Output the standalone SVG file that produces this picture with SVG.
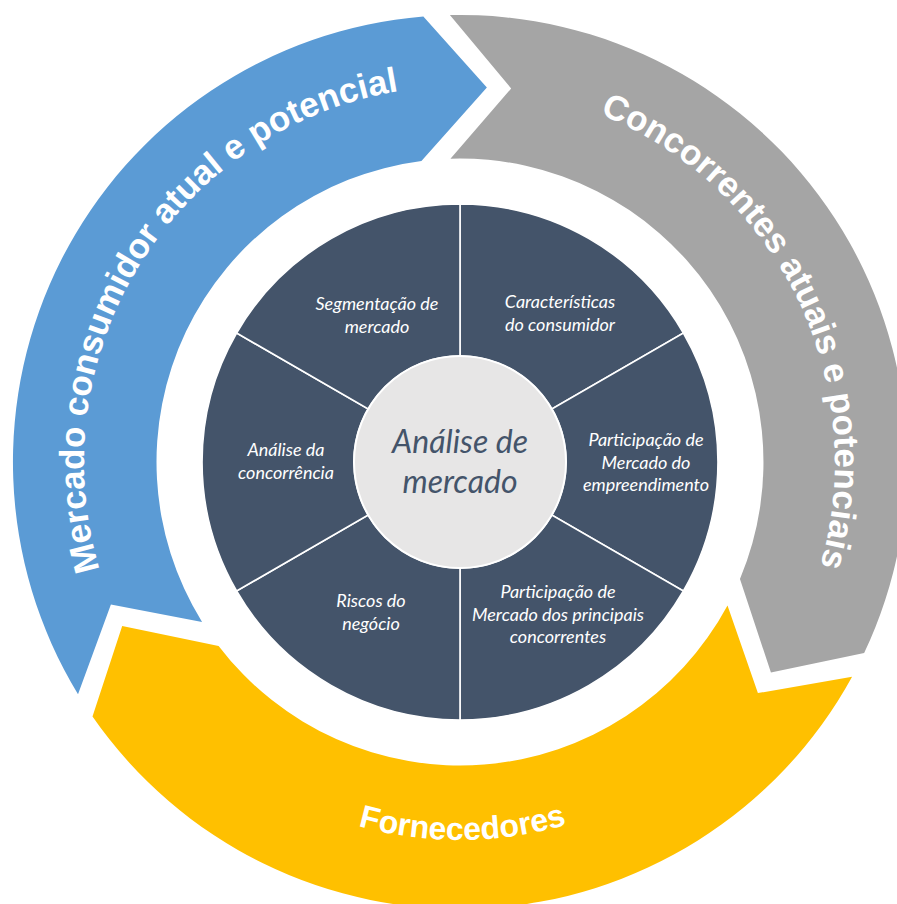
<svg xmlns="http://www.w3.org/2000/svg" xmlns:xlink="http://www.w3.org/1999/xlink" width="897" height="904" viewBox="0 0 897 904">
  <style>
    .band-label { font-family: "Liberation Sans", Arial, sans-serif; font-weight: bold; fill: #ffffff; }
    .sector { fill: #44546a; stroke: #ffffff; stroke-width: 1.6; }
    .sector-label { font-family: Lato, "Open Sans", sans-serif; font-style: italic; font-size: 18px; fill: #ffffff; text-anchor: middle; }
    .hub { fill: #e7e6e6; stroke: #ffffff; stroke-width: 2; }
    .hub-label { font-family: Lato, "Open Sans", sans-serif; font-style: italic; font-size: 32px; fill: #44546a; text-anchor: middle; }
  </style>
  <defs>
    <!-- one chevron-shaped arc band (notched tail, pointed head); rotated copies form the ring -->
    <path id="band" d="M 852.1 676.7 L 757.9 693.1 L 727.5 605.4 A 303.5 303.5 0 0 1 218.6 645.9 L 122.2 626.0 L 92.5 716.5 A 447 447 0 0 0 852.1 676.7 Z"/>
    <!-- baselines for the curved band captions -->
    <path id="arc-consumer" d="M 233.7 762.3 A 376 376 0 0 1 630.7 127.0" fill="none"/>
    <path id="arc-competitors" d="M 325.6 111.9 A 375 375 0 0 1 653.1 783.4" fill="none"/>
    <path id="arc-suppliers" d="M 83.7 497.6 A 378 378 0 0 0 836.8 492.3" fill="none"/>
  </defs>

  <!-- outer ring -->
  <g id="ring-consumer">
    <use xlink:href="#band" href="#band" transform="rotate(120 460 462)" fill="#5b9bd5"/>
    <text class="band-label" font-size="35" text-anchor="middle"><textPath xlink:href="#arc-consumer" href="#arc-consumer" startOffset="50%">Mercado consumidor atual e potencial</textPath></text>
  </g>
  <g id="ring-competitors">
    <use xlink:href="#band" href="#band" transform="rotate(240 460 462)" fill="#a5a5a5"/>
    <text class="band-label" font-size="35" text-anchor="middle"><textPath xlink:href="#arc-competitors" href="#arc-competitors" startOffset="50%">Concorrentes atuais e potenciais</textPath></text>
  </g>
  <g id="ring-suppliers">
    <use xlink:href="#band" href="#band" fill="#ffc000"/>
    <text class="band-label" font-size="32" text-anchor="middle"><textPath xlink:href="#arc-suppliers" href="#arc-suppliers" startOffset="50%">Fornecedores</textPath></text>
  </g>

  <!-- inner wheel: six sectors -->
  <g id="sector-consumer-traits">
    <path class="sector" d="M 460 204 A 258 258 0 0 1 683.4 333 L 551.8 409 A 106 106 0 0 0 460 356 Z"/>
    <text class="sector-label" x="560" y="308">Características<tspan x="560" dy="23">do consumidor</tspan></text>
  </g>
  <g id="sector-own-share">
    <path class="sector" d="M 683.4 333 A 258 258 0 0 1 683.4 591 L 551.8 515 A 106 106 0 0 0 551.8 409 Z"/>
    <text class="sector-label" x="646" y="446">Participação de<tspan x="646" dy="22.5">Mercado do</tspan><tspan x="646" dy="22.5">empreendimento</tspan></text>
  </g>
  <g id="sector-rivals-share">
    <path class="sector" d="M 683.4 591 A 258 258 0 0 1 460 720 L 460 568 A 106 106 0 0 0 551.8 515 Z"/>
    <text class="sector-label" x="558" y="598">Participação de<tspan x="558" dy="22.5">Mercado dos principais</tspan><tspan x="558" dy="22.5">concorrentes</tspan></text>
  </g>
  <g id="sector-risks">
    <path class="sector" d="M 460 720 A 258 258 0 0 1 236.6 591 L 368.2 515 A 106 106 0 0 0 460 568 Z"/>
    <text class="sector-label" x="371" y="607">Riscos do<tspan x="371" dy="23">negócio</tspan></text>
  </g>
  <g id="sector-competition">
    <path class="sector" d="M 236.6 591 A 258 258 0 0 1 236.6 333 L 368.2 409 A 106 106 0 0 0 368.2 515 Z"/>
    <text class="sector-label" x="286" y="456">Análise da<tspan x="286" dy="22.5">concorrência</tspan></text>
  </g>
  <g id="sector-segmentation">
    <path class="sector" d="M 236.6 333 A 258 258 0 0 1 460 204 L 460 356 A 106 106 0 0 0 368.2 409 Z"/>
    <text class="sector-label" x="377" y="310">Segmentação de<tspan x="377" dy="23">mercado</tspan></text>
  </g>

  <!-- hub -->
  <g id="hub-market-analysis">
    <circle class="hub" cx="460" cy="462" r="106"/>
    <text class="hub-label" x="460" y="453">Análise de<tspan x="460" dy="40">mercado</tspan></text>
  </g>
</svg>
